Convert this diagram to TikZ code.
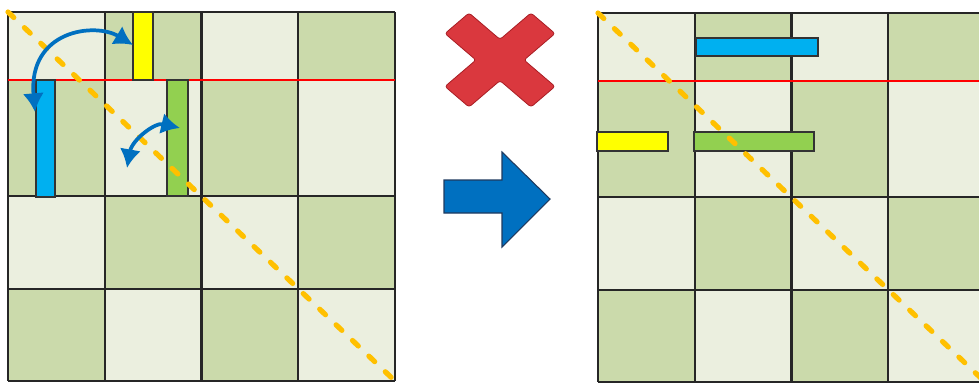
\documentclass[tikz,border=0pt]{standalone}
\usetikzlibrary{arrows.meta}

\definecolor{cellLight}{HTML}{EBEFDF}
\definecolor{cellDark}{HTML}{CBDAAB}
\definecolor{barYellow}{HTML}{FFFF00}
\definecolor{barBlue}{HTML}{00B0F0}
\definecolor{barGreen}{HTML}{92D050}
\definecolor{diagOrange}{HTML}{FFC000}
\definecolor{swapBlue}{HTML}{0070C0}
\definecolor{crossRed}{HTML}{DA383E}
\definecolor{crossEdge}{HTML}{A81E24}
\definecolor{arrowEdge}{HTML}{1F3A5F}

\tikzset{
  gridline/.style={draw=black!85, line width=1.7pt},
  bar/.style={draw=black!80, line width=1pt},
  cutline/.style={draw=red, line width=2.2pt},
  diag/.style={draw=diagOrange, line width=3.9pt, line cap=round, dash pattern=on 6pt off 11pt},
  swap/.style={draw=swapBlue, line width=2.8pt, {Latex[length=14pt,width=16pt]}-{Latex[length=14pt,width=16pt]}},
}

% checkerboard of 4x4 cells, top row split at the red line
\newcommand{\board}{%
  \foreach \xa/\xb [count=\i from 0] in {0/96.75,96.75/193.5,193.5/290.25,290.25/387} {
    \foreach \ya/\yb [count=\j from 0] in {0/68,68/184,184/277,277/369} {
      \pgfmathtruncatemacro{\parity}{mod(\i+\j,2)}
      \ifnum\parity=0
        \fill[cellLight] (\xa,\ya) rectangle (\xb,\yb);
      \else
        \fill[cellDark] (\xa,\ya) rectangle (\xb,\yb);
      \fi
    }
  }
  \foreach \xa in {0,96.75,193.5,290.25,387}
    \draw[gridline] (\xa,0) -- (\xa,369);
  \foreach \ya in {0,184,277,369}
    \draw[gridline] (0,\ya) -- (387,\ya);
  \draw[cutline] (0,68) -- (387,68);
}

\begin{document}
\begin{tikzpicture}[x=0.75pt,y=-0.75pt]
  \useasboundingbox (0,0) rectangle (979,383);

  % left board: bars standing across the cut
  \begin{scope}[shift={(8,12)}]
    \board
    \filldraw[bar, fill=barYellow] (125,0) rectangle (145,68);
    \filldraw[bar, fill=barBlue] (28,68) rectangle (47,185);
    \filldraw[bar, fill=barGreen] (159,68) rectangle (180,184);
    \draw[diag] (0,0) -- (387,369);

    % arrows to suggest swapping
    \coordinate (blueEnd) at (27,100);
    \coordinate (yellowEnd) at (125,33);
    \coordinate (lowEnd) at (119,156);
    \coordinate (greenEnd) at (172,116);
    \draw[swap] (blueEnd) .. controls (20,18) and (87,10) .. (yellowEnd);
    \draw[swap] (lowEnd) .. controls (124,128) and (147,110) .. (greenEnd);
  \end{scope}

  % red cross: not allowed
  \begin{scope}[shift={(500,60)}, xscale=60.8, yscale=52]
    \begin{scope}[rotate=45]
      \filldraw[fill=crossRed, draw=crossEdge, line width=0.6pt, rounded corners=2pt]
        (0.28,1) -- (0.28,0.28) -- (1,0.28) -- (1,-0.28) -- (0.28,-0.28) -- (0.28,-1)
        -- (-0.28,-1) -- (-0.28,-0.28) -- (-1,-0.28) -- (-1,0.28) -- (-0.28,0.28)
        -- (-0.28,1) -- cycle;
    \end{scope}
  \end{scope}

  % block arrow
  \filldraw[fill=swapBlue, draw=arrowEdge, line width=0.8pt]
    (444,180) -- (502,180) -- (502,152) -- (550,199) -- (502,247) -- (502,213)
    -- (444,213) -- cycle;

  % right board: bars lying along the cut
  \begin{scope}[shift={(598,13)}]
    \board
    \filldraw[bar, fill=barBlue] (98,25) rectangle (220,43);
    \filldraw[bar, fill=barYellow] (-1,119) rectangle (70,138);
    \filldraw[bar, fill=barGreen] (96,119) rectangle (216,138);
    \draw[diag] (0,0) -- (387,369);
  \end{scope}

\end{tikzpicture}
\end{document}
